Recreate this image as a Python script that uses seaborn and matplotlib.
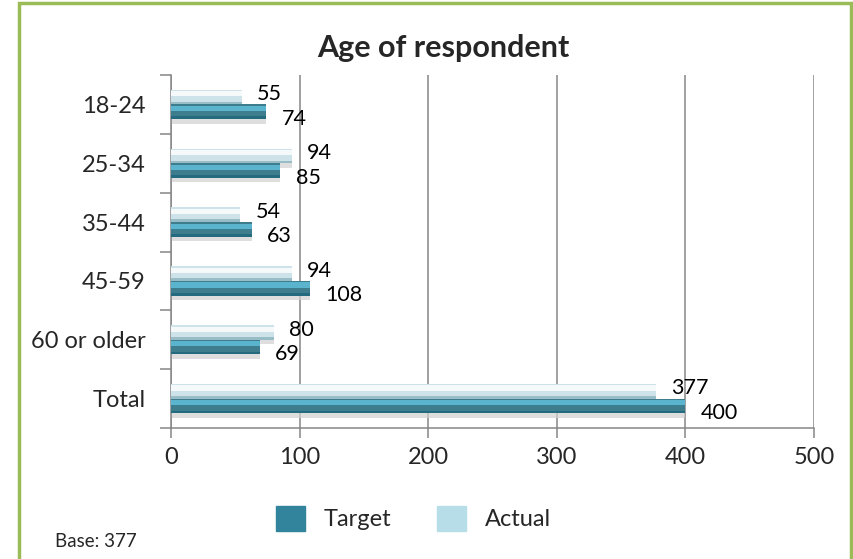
import numpy as np
import pandas as pd
import seaborn as sns
import matplotlib.pyplot as plt
from matplotlib.patches import Rectangle, Patch
from matplotlib.ticker import FixedLocator

categories = ['18-24', '25-34', '35-44', '45-59', '60 or older', 'Total']
target = [74, 85, 63, 108, 69, 400]
actual = [55, 94, 54, 94, 80, 377]

sns.set_style('white')
plt.rcParams['font.family'] = ['Lato', 'DejaVu Sans']
plt.rcParams['font.size'] = 17

df = pd.DataFrame({
    'group': categories * 2,
    'value': actual + target,
    'series': ['Actual'] * len(categories) + ['Target'] * len(categories),
})

c_target = '#31849B'
c_actual = '#C9E6EE'
grid_c = '#868686'

fig = plt.figure(figsize=(8.54, 5.59), dpi=100)
ax = fig.add_axes([0.2002, 0.2343, 0.7530, 0.6315])

sns.barplot(data=df, x='value', y='group', hue='series', orient='h',
            hue_order=['Actual', 'Target'], order=categories,
            palette={'Actual': c_actual, 'Target': c_target},
            width=0.5, dodge=True, ax=ax, legend=False, zorder=3,
            edgecolor='none')

# bevel look: soft shadow, top highlight, bottom dark edge taken from each bar
label_shift = {0: 2, 1: -5}
for i, (cont, hi, lo) in enumerate(zip(ax.containers, ['#FFFFFF', '#62C3DE'],
                                       ['#93B9C3', '#236A7E'])):
    for p in cont:
        x, y, w, h = p.get_x(), p.get_y(), p.get_width(), p.get_height()
        ax.add_patch(Rectangle((x, y + h * 0.3), w, h, color='#D0D0D0',
                               alpha=0.7, zorder=2, lw=0))
        ax.add_patch(Rectangle((x, y + h * 0.1), w, h * 0.35, color=hi,
                               alpha=0.8, zorder=4, lw=0))
        ax.add_patch(Rectangle((x, y + h * 0.82), w, h * 0.18, color=lo,
                               alpha=0.9, zorder=4, lw=0))
        ax.annotate(f'{int(w)}', (x + w, y + h / 2), xytext=(11, label_shift[i]),
                    textcoords='offset points', va='center', ha='left',
                    fontsize=15.5, color='black', zorder=5)

ax.set_xlim(0, 500)
ax.set_ylim(len(categories) - 0.5, -0.5)
ax.set_xticks(range(0, 501, 100))
ax.xaxis.grid(True, color=grid_c, lw=1.1, zorder=1)
ax.yaxis.grid(False)
ax.set_xlabel('')
ax.set_ylabel('')

for s in ['top', 'right']:
    ax.spines[s].set_visible(False)
for s in ['left', 'bottom']:
    ax.spines[s].set_color(grid_c)
    ax.spines[s].set_linewidth(1.1)

ax.yaxis.set_minor_locator(FixedLocator(np.arange(-0.5, len(categories), 1)))
ax.tick_params(axis='y', which='major', length=0, pad=18, labelsize=17)
ax.tick_params(axis='y', which='minor', length=8, width=1.1, color=grid_c, left=True)
ax.tick_params(axis='x', which='major', length=7, width=1.1, color=grid_c,
               bottom=True, pad=7, labelsize=17)

fig.text(0.519, 0.915, 'Age of respondent', ha='center', va='center',
         fontsize=22, fontweight='bold')

handles = [Patch(color=c_target, label='Target'), Patch(color='#B7DEE8', label='Actual')]
fig.legend(handles=handles, loc='center', bbox_to_anchor=(0.484, 0.073), ncol=2,
           frameon=False, handlelength=1.25, handleheight=1.25, handletextpad=0.8,
           columnspacing=1.9, fontsize=17)

fig.text(0.064, 0.032, 'Base: 377', ha='left', va='center', fontsize=13.5)

fig.patches.append(Rectangle((19 / 854, -0.05), (851 - 19) / 854, 1 - 3 / 559 + 0.05,
                             transform=fig.transFigure, fill=False,
                             edgecolor='#9BBB59', lw=2.5, zorder=10))

fig.savefig('out.png', dpi=100)
